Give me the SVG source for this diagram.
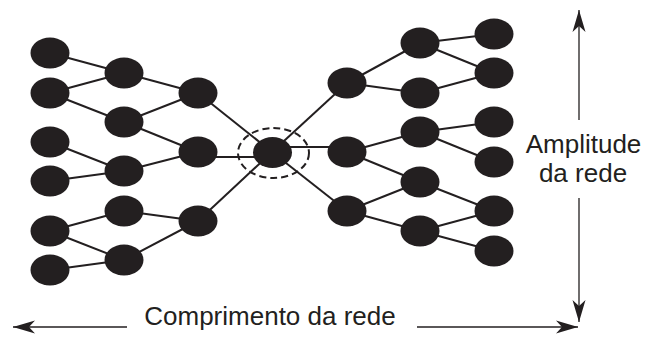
<svg xmlns="http://www.w3.org/2000/svg" width="645" height="352" viewBox="0 0 645 352">
<style>
.n{fill:#231f20}
.e{stroke:#231f20;stroke-width:2;fill:none}
.a{stroke:#231f20;stroke-width:1.3;fill:none;marker-end:url(#ah)}
.t{font-family:"Liberation Sans",Arial,Helvetica,sans-serif;font-size:26px;fill:#231f20;text-anchor:middle}
</style>
<defs>
<marker id="ah" viewBox="-23 -7 24 14" refX="0" refY="0" markerWidth="24" markerHeight="14" markerUnits="userSpaceOnUse" orient="auto">
<path d="M0,0 L-22,-6.5 L-16,0 L-22,6.5 Z" fill="#231f20"/>
</marker>
</defs>
<rect width="645" height="352" fill="#fff"/>
<g id="connectors">
<line class="e" x1="50" y1="53" x2="124" y2="73"/>
<line class="e" x1="50" y1="93" x2="124" y2="73"/>
<line class="e" x1="50" y1="93" x2="124" y2="122"/>
<line class="e" x1="124" y1="73" x2="198" y2="93"/>
<line class="e" x1="124" y1="122" x2="198" y2="93"/>
<line class="e" x1="124" y1="122" x2="198" y2="152"/>
<line class="e" x1="50" y1="142" x2="124" y2="171"/>
<line class="e" x1="50" y1="181" x2="124" y2="171"/>
<line class="e" x1="124" y1="171" x2="198" y2="152"/>
<line class="e" x1="50" y1="231" x2="124" y2="211"/>
<line class="e" x1="50" y1="231" x2="124" y2="260"/>
<line class="e" x1="50" y1="270" x2="124" y2="260"/>
<line class="e" x1="124" y1="211" x2="198" y2="221"/>
<line class="e" x1="124" y1="260" x2="198" y2="221"/>
<line class="e" x1="198" y1="93" x2="272" y2="152"/>
<line class="e" x1="198" y1="157" x2="272" y2="157"/>
<line class="e" x1="198" y1="221" x2="272" y2="152"/>
<line class="e" x1="272" y1="152" x2="347" y2="83"/>
<line class="e" x1="272" y1="147" x2="347" y2="147"/>
<line class="e" x1="272" y1="152" x2="347" y2="211"/>
<line class="e" x1="347" y1="83" x2="420" y2="43"/>
<line class="e" x1="347" y1="83" x2="420" y2="93"/>
<line class="e" x1="420" y1="43" x2="494" y2="34"/>
<line class="e" x1="420" y1="43" x2="494" y2="73"/>
<line class="e" x1="420" y1="93" x2="494" y2="73"/>
<line class="e" x1="347" y1="152" x2="420" y2="132"/>
<line class="e" x1="347" y1="152" x2="420" y2="182"/>
<line class="e" x1="420" y1="132" x2="494" y2="122"/>
<line class="e" x1="420" y1="132" x2="494" y2="162"/>
<line class="e" x1="347" y1="211" x2="420" y2="182"/>
<line class="e" x1="347" y1="211" x2="420" y2="231"/>
<line class="e" x1="420" y1="182" x2="494" y2="211"/>
<line class="e" x1="420" y1="231" x2="494" y2="211"/>
<line class="e" x1="420" y1="231" x2="494" y2="251"/>
<line class="a" x1="127" y1="327" x2="13" y2="327"/>
<line class="a" x1="417" y1="327" x2="578" y2="327"/>
<line class="a" x1="579" y1="120" x2="579" y2="10"/>
<line class="a" x1="579" y1="198" x2="579" y2="322"/>
</g>
<g id="n-l1a"><ellipse class="n" cx="50" cy="53" rx="19.5" ry="15.5"/></g>
<g id="n-l1b"><ellipse class="n" cx="50" cy="93" rx="19.5" ry="15.5"/></g>
<g id="n-l1c"><ellipse class="n" cx="50" cy="142" rx="19.5" ry="15.5"/></g>
<g id="n-l1d"><ellipse class="n" cx="50" cy="181" rx="19.5" ry="15.5"/></g>
<g id="n-l1e"><ellipse class="n" cx="50" cy="231" rx="19.5" ry="15.5"/></g>
<g id="n-l1f"><ellipse class="n" cx="50" cy="270" rx="19.5" ry="15.5"/></g>
<g id="n-l2a"><ellipse class="n" cx="124" cy="73" rx="19.5" ry="15.5"/></g>
<g id="n-l2b"><ellipse class="n" cx="124" cy="122" rx="19.5" ry="15.5"/></g>
<g id="n-l2c"><ellipse class="n" cx="124" cy="171" rx="19.5" ry="15.5"/></g>
<g id="n-l2d"><ellipse class="n" cx="124" cy="211" rx="19.5" ry="15.5"/></g>
<g id="n-l2e"><ellipse class="n" cx="124" cy="260" rx="19.5" ry="15.5"/></g>
<g id="n-l3a"><ellipse class="n" cx="198" cy="93" rx="19.5" ry="15.5"/></g>
<g id="n-l3b"><ellipse class="n" cx="198" cy="152" rx="19.5" ry="15.5"/></g>
<g id="n-l3c"><ellipse class="n" cx="198" cy="221" rx="19.5" ry="15.5"/></g>
<g id="n-center">
<ellipse cx="273.5" cy="153" rx="35.5" ry="25" fill="none" stroke="#231f20" stroke-width="2" stroke-dasharray="7,4"/>
<ellipse class="n" cx="272.5" cy="152.5" rx="19.5" ry="15.5"/>
</g>
<g id="n-r3a"><ellipse class="n" cx="347" cy="83" rx="19.5" ry="15.5"/></g>
<g id="n-r3b"><ellipse class="n" cx="347" cy="152" rx="19.5" ry="15.5"/></g>
<g id="n-r3c"><ellipse class="n" cx="347" cy="211" rx="19.5" ry="15.5"/></g>
<g id="n-r2a"><ellipse class="n" cx="420" cy="43" rx="19.5" ry="15.5"/></g>
<g id="n-r2b"><ellipse class="n" cx="420" cy="93" rx="19.5" ry="15.5"/></g>
<g id="n-r2c"><ellipse class="n" cx="420" cy="132" rx="19.5" ry="15.5"/></g>
<g id="n-r2d"><ellipse class="n" cx="420" cy="182" rx="19.5" ry="15.5"/></g>
<g id="n-r2e"><ellipse class="n" cx="420" cy="231" rx="19.5" ry="15.5"/></g>
<g id="n-r1a"><ellipse class="n" cx="494" cy="34" rx="19.5" ry="15.5"/></g>
<g id="n-r1b"><ellipse class="n" cx="494" cy="73" rx="19.5" ry="15.5"/></g>
<g id="n-r1c"><ellipse class="n" cx="494" cy="122" rx="19.5" ry="15.5"/></g>
<g id="n-r1d"><ellipse class="n" cx="494" cy="162" rx="19.5" ry="15.5"/></g>
<g id="n-r1e"><ellipse class="n" cx="494" cy="211" rx="19.5" ry="15.5"/></g>
<g id="n-r1f"><ellipse class="n" cx="494" cy="251" rx="19.5" ry="15.5"/></g>
<g id="labels">
<text class="t" x="583.5" y="152.5">Amplitude</text>
<text class="t" x="583" y="182">da rede</text>
<text class="t" x="270" y="325">Comprimento da rede</text>
</g>
</svg>
